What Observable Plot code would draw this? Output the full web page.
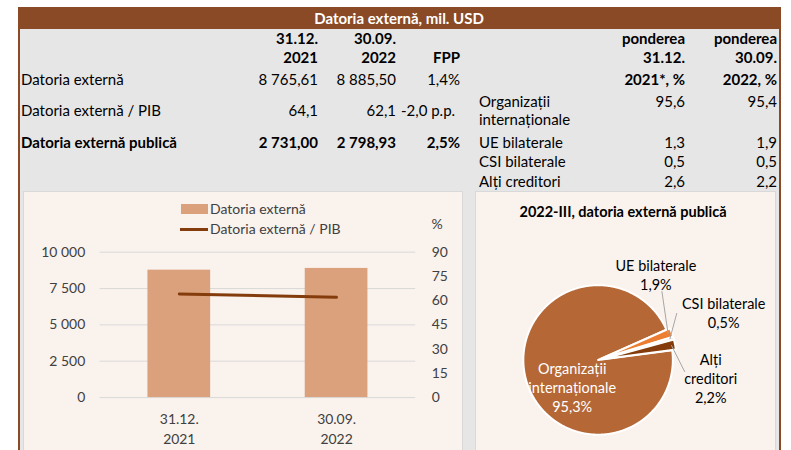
<!DOCTYPE html>
<html><head><meta charset="utf-8">
<script src="https://cdn.jsdelivr.net/npm/d3@7"></script>
<script src="https://cdn.jsdelivr.net/npm/@observablehq/plot@0.6"></script>
<style>
body{margin:0;background:#fff;font-family:Lato,"Open Sans",sans-serif;}
#wrap{position:relative;width:791px;height:450px;overflow:hidden;background:#fff;}
.abs{position:absolute;}
</style></head>
<body><div id="wrap"></div>
<script>
// ---------- data ----------
const titleText = "Datoria externă, mil. USD";
const tableRows = ["Datoria externă", "Datoria externă / PIB", "Datoria externă publică"];
const values2021 = [8765.61, 64.1, 2731.00];
const values2022 = [8885.50, 62.1, 2798.93];
const rowFormats = [",.2f", ".1f", ",.2f"];
const fppLabels = ["1,4%", "-2,0 p.p.", "2,5%"];
const headTop = ["31.12.", "30.09."];
const headBottom = ["2021", "2022"];
const creditorLines = [["Organizații", "internaționale"], ["UE bilaterale"], ["CSI bilaterale"], ["Alți creditori"]];
const share2021 = [95.6, 1.3, 0.5, 2.6];
const share2022 = [95.4, 1.9, 0.5, 2.2];
const periods = ["31.12.\n2021", "30.09.\n2022"];
const externalDebt = [8765.61, 8885.50];
const debtToGdp = [64.1, 62.1];
const leftTicks = [0, 2500, 5000, 7500, 10000];
const rightTicks = [0, 15, 30, 45, 60, 75, 90];
const seriesNames = ["Datoria externă", "Datoria externă / PIB"];
const rightUnit = "%";
const pieTitle = "2022-III, datoria externă publică";
const pieNames = ["Organizații\ninternaționale", "UE bilaterale", "CSI bilaterale", "Alți\ncreditori"];
const pieShares = [95.3, 1.9, 0.5, 2.2];

// ---------- styles / layout ----------
const brown = "#8a4a25", barFill = "#dba17c", lineCol = "#843c0c";
const pieColors = ["#b56736", "#ed7d31", "#f8cbad", "#843c0c"];
const pieTextColors = ["#ffffff", "#000", "#000", "#000"];
const loc = d3.formatLocale({decimal: ",", thousands: " ", grouping: [3], currency: ["", ""]});

const wrap = document.getElementById("wrap");
function box(x, y, w, h, style) {
  const d = document.createElement("div");
  d.className = "abs";
  Object.assign(d.style, {left: x + "px", top: y + "px", width: w + "px", height: h + "px"}, style || {});
  wrap.appendChild(d);
  return d;
}
function txt(x, y, s, o = {}) {
  const d = document.createElement("div");
  d.className = "abs";
  d.textContent = s;
  d.style.top = (y - 10) + "px";
  d.style.lineHeight = "20px";
  d.style.whiteSpace = "nowrap";
  d.style.fontSize = (o.size || 15) + "px";
  if (o.align === "right") d.style.right = (791 - x) + "px";
  else if (o.align === "center") { d.style.left = x + "px"; d.style.transform = "translateX(-50%)"; }
  else d.style.left = x + "px";
  if (o.bold) d.style.fontWeight = "bold";
  d.style.color = o.color || "#000";
  wrap.appendChild(d);
  return d;
}

// frame
box(18, 7, 763, 22, {background: brown});
box(18, 29, 763, 421, {background: brown});
box(20, 29, 759, 421, {background: "#e7e6e6"});
txt(399, 18, titleText, {align: "center", bold: true, color: "#fff"});

// left table
const colR = [318, 396];
headTop.forEach((s, i) => txt(colR[i], 38, s, {align: "right", bold: true}));
headBottom.forEach((s, i) => txt(colR[i], 57, s, {align: "right", bold: true}));
txt(460, 57, "FPP", {align: "right", bold: true});
const rowY = [79, 110, 142];
tableRows.forEach((r, i) => {
  const b = i === 2;
  txt(21, rowY[i], r, {bold: b});
  txt(colR[0], rowY[i], loc.format(rowFormats[i])(values2021[i]), {align: "right", bold: b});
  txt(colR[1], rowY[i], loc.format(rowFormats[i])(values2022[i]), {align: "right", bold: b});
  if (fppLabels[i].includes("p.p.")) txt(401, rowY[i], fppLabels[i], {bold: b});
  else txt(460, rowY[i], fppLabels[i], {align: "right", bold: b});
});

// right table
const shR = [685, 777];
shR.forEach(x => txt(x, 38, "ponderea", {align: "right", bold: true}));
headTop.forEach((s, i) => txt(shR[i], 57, s, {align: "right", bold: true}));
txt(shR[0], 79, headBottom[0] + "*, %", {align: "right", bold: true});
txt(shR[1], 79, headBottom[1] + ", %", {align: "right", bold: true});
const credY = [101, 142, 161, 181];
creditorLines.forEach((lines, i) => {
  lines.forEach((l, j) => txt(479, credY[i] + j * 18, l));
  txt(shR[0], credY[i], loc.format(".1f")(share2021[i]), {align: "right"});
  txt(shR[1], credY[i], loc.format(".1f")(share2022[i]), {align: "right"});
});

// ---------- bar + line chart ----------
const barPanel = box(23, 191, 440, 270, {background: "#faf2ed", border: "1px solid #d9d9d9", boxSizing: "border-box"});
const k = 10000 / 90;
const barData = periods.map((p, i) => ({period: p, debt: externalDebt[i], ratio: debtToGdp[i]}));
const barChart = Plot.plot({
  width: 440, height: 259,
  marginTop: 61, marginBottom: 52, marginLeft: 77, marginRight: 46,
  style: {background: "transparent", fontFamily: "Lato, sans-serif", fontSize: "14px", color: "#404040", overflow: "visible"},
  x: {domain: periods, paddingInner: 0.6025, paddingOuter: 0.30125, axis: null},
  y: {domain: [0, 10000], axis: null},
  marks: [
    Plot.gridY(leftTicks, {stroke: "#d9d9d9", strokeOpacity: 1}),
    Plot.barY(barData, {x: "period", y: "debt", fill: barFill}),
    Plot.line(barData, {x: "period", y: d => d.ratio * k, stroke: lineCol, strokeWidth: 3, strokeLinecap: "round"}),
    Plot.axisY(leftTicks, {anchor: "left", tickSize: 0, tickPadding: 15, tickFormat: loc.format(",d"), label: null, fill: "#404040"}),
    Plot.axisY(rightTicks.map(v => v * k), {anchor: "right", tickSize: 0, tickPadding: 16, tickFormat: v => loc.format("d")(Math.round(v / k)), label: null, fill: "#404040"}),
    Plot.axisX({tickSize: 0, tickPadding: 12, label: null, lineHeight: 1.43, fill: "#404040"})
  ]
});
barChart.style.position = "absolute"; barChart.style.left = "-1px"; barChart.style.top = "-1px";
barPanel.appendChild(barChart);
txt(437, 224, rightUnit, {align: "center", color: "#404040", size: 14});

// legend
box(181, 204, 27, 10, {background: barFill});
txt(210, 209, seriesNames[0], {color: "#404040", size: 14});
box(180, 228, 28, 3, {background: lineCol});
txt(210, 229, seriesNames[1], {color: "#404040", size: 14});

// ---------- pie ----------
const piePanel = box(475, 191, 301, 270, {background: "#faf2ed", border: "1px solid #d9d9d9", boxSizing: "border-box"});
const R = 75, cx = 123, cy = 169, W = 300, H = 259;
const start = 82.6 * Math.PI / 180;
const arcs = d3.pie().sort(null).startAngle(start).endAngle(start + 2 * Math.PI)(pieShares);
const explode = [0.0, 0.05, 0.05, 0.05];
const slicePts = [];
arcs.forEach((s, i) => {
  const mid = (s.startAngle + s.endAngle) / 2;
  const ox = explode[i] * Math.sin(mid), oy = explode[i] * Math.cos(mid);
  slicePts.push({k: i, x: ox, y: oy});
  const n = Math.max(2, Math.ceil((s.endAngle - s.startAngle) / (Math.PI / 360)));
  for (let j = 0; j <= n; j++) {
    const a = s.startAngle + (s.endAngle - s.startAngle) * j / n;
    slicePts.push({k: i, x: ox + Math.sin(a), y: oy + Math.cos(a)});
  }
  slicePts.push({k: i, x: ox, y: oy});
});
// label placement (pixel offsets from pie centre) and leader-line starts
const labelPos = [[-26, 27], [58, -85.5], [126, -47.5], [113, 18]];
const leaderStart = [null, [64, -69], [79, -47], [87, 12]];
const labels = arcs.map((s, i) => ({
  text: pieNames[i] + "\n" + loc.format(".1f")(pieShares[i]) + "%",
  x: labelPos[i][0] / R, y: -labelPos[i][1] / R, color: pieTextColors[i]
}));
const leaders = arcs.map((s, i) => {
  if (!leaderStart[i]) return null;
  const mid = (s.startAngle + s.endAngle) / 2;
  return {x1: leaderStart[i][0] / R, y1: -leaderStart[i][1] / R, x2: 1.0 * Math.sin(mid), y2: 1.0 * Math.cos(mid)};
}).filter(d => d);
const pieChart = Plot.plot({
  width: W, height: H, margin: 0,
  style: {background: "transparent", fontFamily: "Lato, sans-serif", fontSize: "14.5px", overflow: "visible"},
  x: {domain: [-cx / R, (W - cx) / R], range: [0, W], axis: null},
  y: {domain: [-(H - cy) / R, cy / R], range: [H, 0], axis: null},
  marks: [
    Plot.line(slicePts, {x: "x", y: "y", z: "k", fill: d => pieColors[d.k], stroke: "#fff", strokeWidth: 2, curve: "linear"}),
    Plot.link(leaders, {x1: "x1", y1: "y1", x2: "x2", y2: "y2", stroke: "#a6a6a6", strokeWidth: 1}),
    Plot.text(labels, {x: "x", y: "y", text: "text", fill: "color", lineHeight: 1.33, fontSize: 14.5})
  ]
});
pieChart.style.position = "absolute"; pieChart.style.left = "-1px"; pieChart.style.top = "-1px";
piePanel.appendChild(pieChart);
txt(623, 212, pieTitle, {align: "center", bold: true, size: 14.5});
</script>
</body></html>
